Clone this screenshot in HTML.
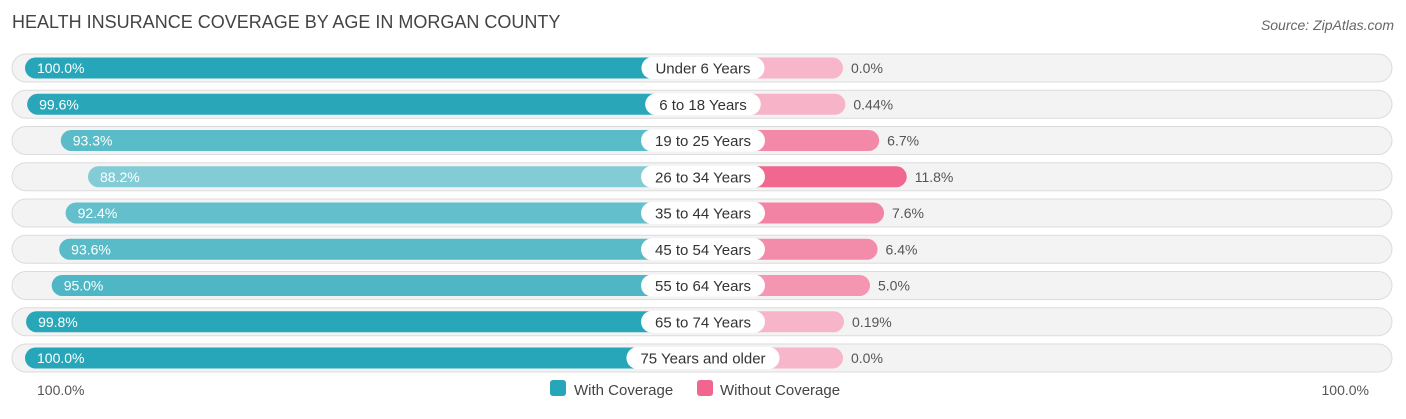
<!DOCTYPE html>
<html><head><meta charset="utf-8"><style>
body{margin:0;background:#fff;font-family:"Liberation Sans",Arial,sans-serif;}
#wrap{position:relative;width:1406px;height:414px;}
</style></head><body>
<div id="wrap">
<svg id="svg" width="1406" height="414" xmlns="http://www.w3.org/2000/svg">
<text x="12" y="28" font-size="18" fill="#444">HEALTH INSURANCE COVERAGE BY AGE IN MORGAN COUNTY</text>
<text x="1394" y="30" font-size="14" fill="#666" font-style="italic" text-anchor="end">Source: ZipAtlas.com</text>
<g id="rows"></g>
<text x="37" y="395" font-size="14" fill="#555">100.0%</text>
<text x="1369" y="395" font-size="14" fill="#555" text-anchor="end">100.0%</text>
<g><rect x="550" y="380" width="16" height="16" rx="3" fill="#26a6b8"/><text x="574" y="395" font-size="15" fill="#444">With Coverage</text></g>
<g><rect x="697" y="380" width="16" height="16" rx="3" fill="#f0668f"/><text x="720" y="395" font-size="15" fill="#444">Without Coverage</text></g>
</svg></div>
<script>
const categories=["Under 6 Years","6 to 18 Years","19 to 25 Years","26 to 34 Years","35 to 44 Years","45 to 54 Years","55 to 64 Years","65 to 74 Years","75 Years and older"];
const withCov=[100.0,99.6,93.3,88.2,92.4,93.6,95.0,99.8,100.0];
const withoutCov=[0.0,0.44,6.7,11.8,7.6,6.4,5.0,0.19,0.0];
const withLabels=["100.0%","99.6%","93.3%","88.2%","92.4%","93.6%","95.0%","99.8%","100.0%"];
const withoutLabels=["0.0%","0.44%","6.7%","11.8%","7.6%","6.4%","5.0%","0.19%","0.0%"];
const NS="http://www.w3.org/2000/svg",cx=703,y0=68,dy=36.25;
function lw(v){return 144+5.34*v;}
function rw(v){return 140+5.4*v;}
function mix(a,b,t){return "rgb("+a.map((x,i)=>Math.round(x+(b[i]-x)*t)).join(",")+")";}
const g=document.getElementById("rows");
function mk(tag,attrs,parent){const e=document.createElementNS(NS,tag);for(const k in attrs)e.setAttribute(k,attrs[k]);parent.appendChild(e);return e;}
categories.forEach((c,i)=>{
 const y=y0+i*dy;
 const row=mk("g",{},g);
 
 
 const bg=mk("rect",{x:12,y:y-14,width:1380,height:28,rx:14,fill:"#f3f3f3",stroke:"#dcdcdc"},row);
 
 
 const w=lw(withCov[i]);
 const tl=Math.max(0,Math.min(1,(100-withCov[i])/12));
 const b1=mk("rect",{x:cx-w,y:y-10.5,width:w,height:21,rx:10.5,fill:mix([38,166,184],[133,205,214],tl)},row);
 
 
 const t1=mk("text",{x:cx-w+12,y:y+5,"font-size":14,fill:"#fff"},row);t1.textContent=withLabels[i];
 
 
 const w2=rw(withoutCov[i]);
 const tr=Math.max(0,Math.min(1,withoutCov[i]/12));
 const b2=mk("rect",{x:cx,y:y-10.5,width:w2,height:21,rx:10.5,fill:mix([247,182,202],[240,102,143],tr)},row);
 
 
 const t2=mk("text",{x:cx+w2+8,y:y+5,"font-size":14,fill:"#555"},row);t2.textContent=withoutLabels[i];
 
 
 const lab=mk("text",{x:cx,y:y+5.5,"font-size":15,fill:"#333","text-anchor":"middle"},row);lab.textContent=c;
 const tw=lab.getComputedTextLength()+28;
 const pill=mk("rect",{x:cx-tw/2,y:y-11,width:tw,height:22,rx:11,fill:"#fff"},row);
 row.insertBefore(pill,lab);
 
 
 
 
});
</script>
</body></html>
